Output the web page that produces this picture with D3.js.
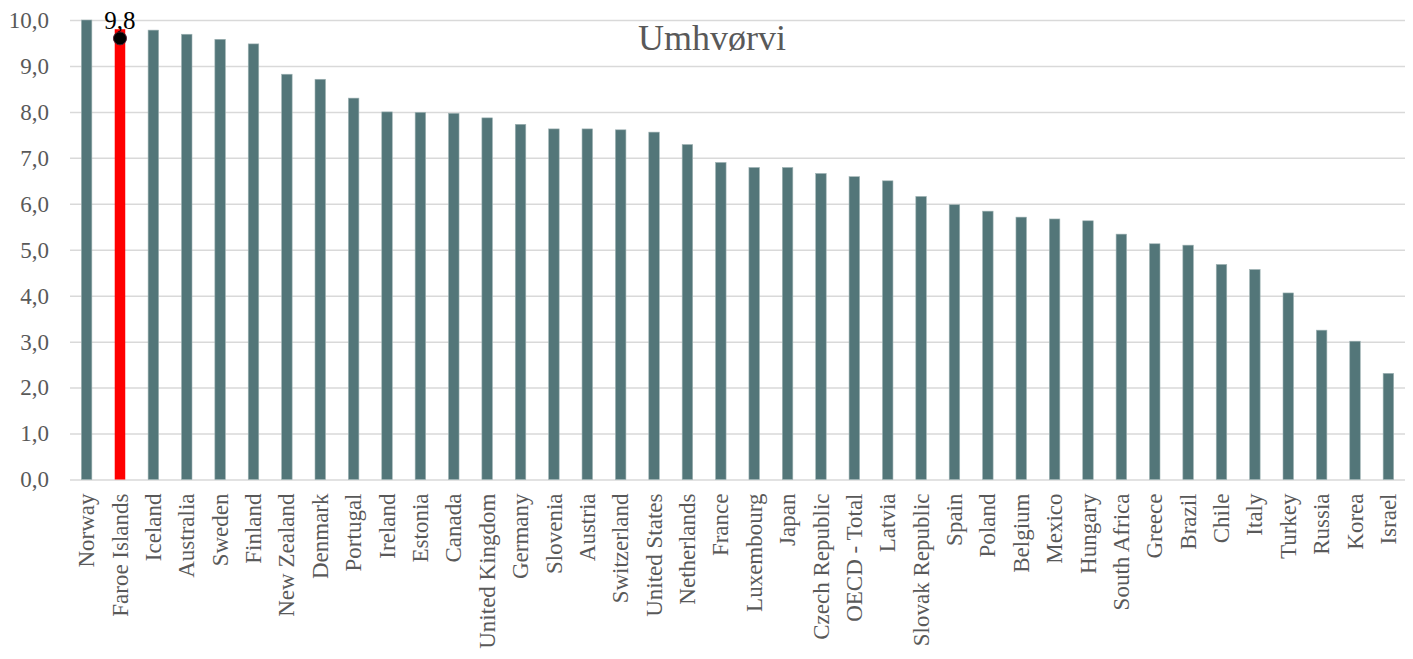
<!DOCTYPE html>
<html><head><meta charset="utf-8">
<script src="https://cdn.jsdelivr.net/npm/d3@7"></script>
<style>body{margin:0;background:#fff}svg{display:block}</style>
</head><body>
<svg id="c" width="1413" height="659"></svg>
<script>
const categories = ["Norway","Faroe Islands","Iceland","Australia","Sweden","Finland","New Zealand","Denmark","Portugal","Ireland","Estonia","Canada","United Kingdom","Germany","Slovenia","Austria","Switzerland","United States","Netherlands","France","Luxembourg","Japan","Czech Republic","OECD - Total","Latvia","Slovak Republic","Spain","Poland","Belgium","Mexico","Hungary","South Africa","Greece","Brazil","Chile","Italy","Turkey","Russia","Korea","Israel"];
const values = [10.0,9.80,9.78,9.69,9.58,9.48,8.82,8.71,8.30,8.00,7.99,7.97,7.87,7.73,7.63,7.63,7.61,7.56,7.29,6.90,6.79,6.79,6.66,6.59,6.50,6.16,5.98,5.84,5.71,5.67,5.63,5.34,5.13,5.10,4.68,4.57,4.06,3.25,3.01,2.31];
const highlight = "Faroe Islands";
const markerCategory = "Faroe Islands";
const markerValue = 9.6;
const markerLabel = "9,8";
const yTicks = [0,1,2,3,4,5,6,7,8,9,10];
const title = "Umhvørvi";

const svg = d3.select("#c");
const font = "'Liberation Serif','Times New Roman',serif";
const m = {left:70, right:1405, top:20, bottom:479.5};
const x = d3.scaleBand().domain(categories).range([m.left, m.right]).paddingInner(0.685).paddingOuter(0.34);
const y = d3.scaleLinear().domain([0,10]).range([m.bottom, m.top]);

// gridlines
const yAxis = d3.axisLeft(y).tickValues(yTicks).tickSize(-(m.right-m.left)).tickPadding(21)
  .tickFormat(d => d3.format(".1f")(d).replace(".", ","));
const gy = svg.append("g").attr("transform",`translate(${m.left},0)`).call(yAxis);
gy.select(".domain").remove();
gy.selectAll(".tick line").attr("stroke","#d9d9d9").attr("stroke-width",1.5);
gy.selectAll(".tick text").attr("fill","#595959").style("font-family",font).style("font-size","23px");

// bars
svg.append("g").selectAll("rect").data(categories).join("rect")
  .attr("x", d => x(d))
  .attr("width", x.bandwidth())
  .attr("y", (d,i) => y(values[i]))
  .attr("height", (d,i) => y(0) - y(values[i]))
  .attr("fill", d => d === highlight ? "#ff0000" : "#537679")
  .attr("stroke", d => d === highlight ? "none" : "#9fb3b4")
  .attr("stroke-width", 0.6);

// x axis
const xAxis = d3.axisBottom(x).tickSize(0).tickPadding(0);
const gx = svg.append("g").attr("transform",`translate(0,${m.bottom})`).call(xAxis);
gx.select(".domain").remove();
gx.selectAll(".tick text")
  .attr("fill","#595959").style("font-family",font).style("font-size","23px")
  .attr("text-anchor","end")
  .attr("transform","rotate(-90)")
  .attr("x",-14).attr("y",0).attr("dy","0.33em");

// marker
const mx = x(markerCategory) + x.bandwidth()/2;
svg.append("circle").attr("cx", mx).attr("cy", y(markerValue)).attr("r", 6.5)
  .attr("fill","#000").attr("stroke","#4a2030").attr("stroke-width",1);
svg.append("text").attr("x", mx).attr("y", y(markerValue) - 9.5).attr("text-anchor","middle")
  .attr("fill","#000").style("font-family",font).style("font-size","25px").text(markerLabel);

// title
svg.append("text").attr("x", 712).attr("y", 50).attr("text-anchor","middle")
  .attr("fill","#595959").style("font-family",font).style("font-size","36px").text(title);
</script>
</body></html>
